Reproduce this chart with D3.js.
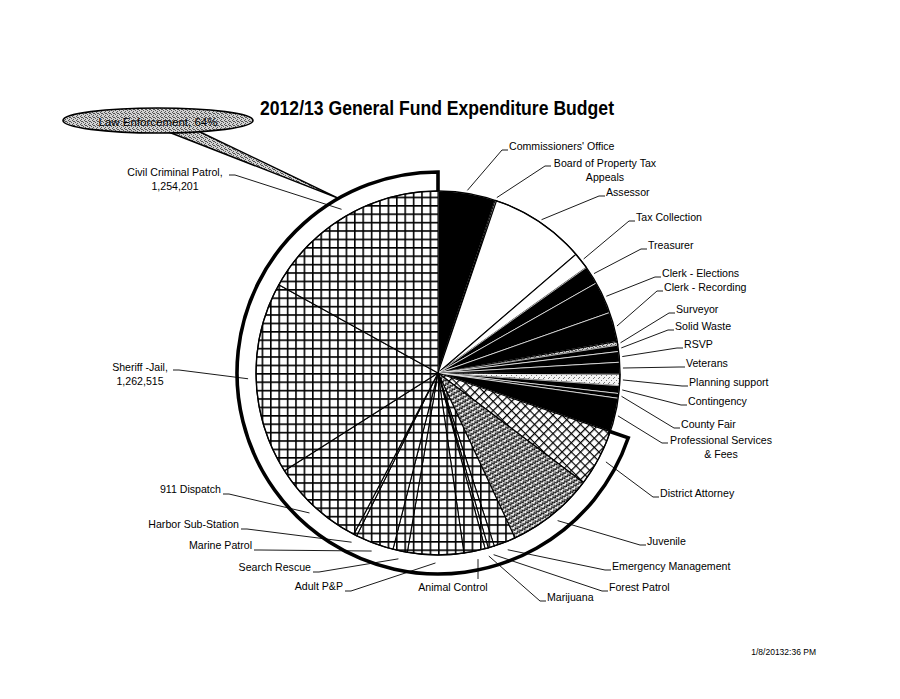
<!DOCTYPE html>
<html>
<head>
<meta charset="utf-8">
<script src="https://cdn.jsdelivr.net/npm/d3@7"></script>
<style>
  html, body { margin: 0; padding: 0; background: #fff; }
  svg { display: block; }
  text { font-family: "Liberation Sans", Arial, sans-serif; fill: #000; }
</style>
</head>
<body>
<svg id="chart" width="900" height="699"></svg>
<script>
// ---------------- DATA ----------------
const title = "2012/13 General Fund Expenditure Budget";
const categories = [
  "Commissioners' Office", "Board of Property Tax Appeals", "Assessor", "Tax Collection",
  "Treasurer", "Clerk - Elections", "Clerk - Recording", "Surveyor", "Solid Waste", "RSVP",
  "Veterans", "Planning support", "Contingency", "County Fair", "Professional Services & Fees",
  "District Attorney", "Juvenile", "Emergency Management", "Forest Patrol", "Marijuana",
  "Animal Control", "Adult P&P", "Search Rescue", "Marine Patrol", "Harbor Sub-Station",
  "911 Dispatch", "Sheriff -Jail", "Civil Criminal Patrol"
];
const values = [
  376000, 10000, 627000, 109000,
  119000, 210000, 193000, 25000, 41000, 70000,
  76000, 76000, 51000, 31000, 222000,
  374000, 575000, 144000, 41000, 21000,
  140000, 368000, 95000, 251000, 21000,
  616000, 1262515, 1254201
];
const valueLabelled = ["Sheriff -Jail", "Civil Criminal Patrol"];
const groupLabel = "Law Enforcement, 64%";
const groupFirst = "District Attorney";   // bracket spans from this slice to the end
const footer = "1/8/20132:36 PM";

// ---------------- STYLE / LAYOUT ----------------
const fillKind = {
  "Commissioners' Office": "black", "Board of Property Tax Appeals": "white", "Assessor": "white",
  "Tax Collection": "white", "Treasurer": "black", "Clerk - Elections": "black",
  "Clerk - Recording": "black", "Surveyor": "stipple", "Solid Waste": "black", "RSVP": "black",
  "Veterans": "black", "Planning support": "lightstipple", "Contingency": "black",
  "County Fair": "black", "Professional Services & Fees": "black",
  "District Attorney": "diamond", "Juvenile": "zigzag"
}; // everything else: grid

// label layout: x,y = text anchor / first baseline; side: r (start) l (end) m (middle)
const labelLayout = {
  "Commissioners' Office": {x: 509, y: 150, side: "r"},
  "Board of Property Tax Appeals": {x: 605, y: 167, side: "m", lines: ["Board of Property Tax", "Appeals"], lx: 551, ly: 166},
  "Assessor": {x: 606, y: 196, side: "r"},
  "Tax Collection": {x: 636, y: 221, side: "r"},
  "Treasurer": {x: 648, y: 249, side: "r"},
  "Clerk - Elections": {x: 662, y: 277, side: "r"},
  "Clerk - Recording": {x: 664, y: 291, side: "r"},
  "Surveyor": {x: 676, y: 313, side: "r"},
  "Solid Waste": {x: 675, y: 330, side: "r"},
  "RSVP": {x: 684, y: 348, side: "r"},
  "Veterans": {x: 686, y: 367, side: "r"},
  "Planning support": {x: 689, y: 386, side: "r"},
  "Contingency": {x: 688, y: 405, side: "r"},
  "County Fair": {x: 681, y: 428, side: "r"},
  "Professional Services & Fees": {x: 721, y: 444, side: "m", lines: ["Professional Services", "& Fees"], lx: 668, ly: 443},
  "District Attorney": {x: 660, y: 497, side: "r"},
  "Juvenile": {x: 647, y: 545, side: "r"},
  "Emergency Management": {x: 612, y: 570, side: "r"},
  "Forest Patrol": {x: 609, y: 591, side: "r"},
  "Marijuana": {x: 547, y: 601, side: "r"},
  "Animal Control": {x: 453, y: 591, side: "m", lx: 478, ly: 579, vertical: true},
  "Adult P&P": {x: 343, y: 590, side: "l"},
  "Search Rescue": {x: 311, y: 571, side: "l"},
  "Marine Patrol": {x: 252, y: 549, side: "l"},
  "Harbor Sub-Station": {x: 239, y: 528, side: "l"},
  "911 Dispatch": {x: 221, y: 493, side: "l"},
  "Sheriff -Jail": {x: 140, y: 371, side: "m", lx: 173, ly: 370},
  "Civil Criminal Patrol": {x: 175, y: 176, side: "m", lx: 229, ly: 175}
};

const W = 900, H = 699;
const cx = 438, cy = 373, R = 182, Rb = 201;
const fmt = d3.format(",");

const svg = d3.select("#chart");
svg.append("rect").attr("width", W).attr("height", H).attr("fill", "#fff");

// ---------------- PATTERNS ----------------
const defs = svg.append("defs");
const pg = defs.append("pattern").attr("id", "grid").attr("patternUnits", "userSpaceOnUse")
  .attr("width", 8.4).attr("height", 8.4);
pg.append("rect").attr("width", 8.4).attr("height", 8.4).attr("fill", "#fff");
pg.append("path").attr("d", "M0.8,0 V8.4 M0,0.8 H8.4").attr("stroke", "#000").attr("stroke-width", 1.6);

const pd = defs.append("pattern").attr("id", "diamond").attr("patternUnits", "userSpaceOnUse")
  .attr("width", 6.5).attr("height", 6.5).attr("patternTransform", "rotate(45)");
pd.append("rect").attr("width", 6.5).attr("height", 6.5).attr("fill", "#fff");
pd.append("path").attr("d", "M0.6,0 V6.5 M0,0.6 H6.5").attr("stroke", "#000").attr("stroke-width", 1.3);

const pz = defs.append("pattern").attr("id", "zigzag").attr("patternUnits", "userSpaceOnUse")
  .attr("width", 6).attr("height", 4).attr("patternTransform", "rotate(-30)");
pz.append("rect").attr("width", 6).attr("height", 4).attr("fill", "#fff");
pz.append("path").attr("d", "M0,3 L1.5,1 L3,3 L4.5,1 L6,3")
  .attr("fill", "none").attr("stroke", "#000").attr("stroke-width", 1.2);
pz.append("rect").attr("x", 2.5).attr("y", 0).attr("width", 1).attr("height", 1).attr("fill", "#444");

const ps = defs.append("pattern").attr("id", "stipple").attr("patternUnits", "userSpaceOnUse")
  .attr("width", 4).attr("height", 4);
ps.append("rect").attr("width", 4).attr("height", 4).attr("fill", "#d2d2d2");
[[0,0],[2,1],[1,3],[3,2],[1,1]].forEach(([x,y]) => ps.append("rect").attr("x", x).attr("y", y)
  .attr("width", 1).attr("height", 1).attr("fill", "#555"));

const pl = defs.append("pattern").attr("id", "lightstipple").attr("patternUnits", "userSpaceOnUse")
  .attr("width", 5).attr("height", 5);
pl.append("rect").attr("width", 5).attr("height", 5).attr("fill", "#f4f4f4");
[[0,0],[3,2],[1,4]].forEach(([x,y]) => pl.append("rect").attr("x", x).attr("y", y)
  .attr("width", 1).attr("height", 1).attr("fill", "#777"));

function fillOf(cat) {
  const k = fillKind[cat] || "grid";
  if (k === "black") return "#000";
  if (k === "white") return "#fff";
  return "url(#" + k + ")";
}

// ---------------- PIE ----------------
const data = categories.map((c, i) => ({category: c, value: values[i]}));
const pie = d3.pie().sort(null).value(d => d.value).startAngle(0).endAngle(2 * Math.PI);
const arcs = pie(data);
const arc = d3.arc().innerRadius(0).outerRadius(R);

const g = svg.append("g").attr("transform", `translate(${cx},${cy})`);
g.selectAll("path.slice").data(arcs).join("path")
  .attr("class", "slice")
  .attr("d", arc)
  .attr("fill", d => fillOf(d.data.category))
  .attr("stroke", d => (fillKind[d.data.category] === "black") ? "#fff" : "#000")
  .attr("stroke-width", d => (fillKind[d.data.category] === "black") ? 0.7 : 1.1)
  .attr("stroke-linejoin", "round");

g.append("circle").attr("r", R).attr("fill", "none").attr("stroke", "#000").attr("stroke-width", 1.4);

// ---------------- LAW ENFORCEMENT BRACKET ----------------
const gStart = arcs.find(a => a.data.category === groupFirst).startAngle;
const pt = (ang, r) => [Math.sin(ang) * r, -Math.cos(ang) * r];
const bp = d3.path();
const a0 = pt(gStart, R - 2), a1 = pt(gStart, Rb);
bp.moveTo(a0[0], a0[1]);
bp.lineTo(a1[0], a1[1]);
bp.arc(0, 0, Rb, gStart - Math.PI / 2, 2 * Math.PI - Math.PI / 2, false);
const e1 = pt(2 * Math.PI, R);
bp.lineTo(e1[0], e1[1]);
g.append("path").attr("d", bp.toString()).attr("fill", "none").attr("stroke", "#000")
  .attr("stroke-width", 3.6).attr("stroke-linejoin", "miter");

// ---------------- LEADERS & LABELS ----------------
const lg = svg.append("g");
arcs.forEach(a => {
  const cat = a.data.category;
  const L = labelLayout[cat];
  if (!L) return;
  const mid = (a.startAngle + a.endAngle) / 2;
  const tipR = (mid >= gStart) ? R + 8 : R + 3;
  const tp = pt(mid, tipR);
  const tip = [cx + tp[0], cy + tp[1]];
  let pts;
  if (L.vertical) {
    pts = [[L.lx, L.ly], [L.lx, tip[1]]];
  } else if (L.side === "r") {
    pts = [tip, [L.x - 7, L.y], [L.x - 1, L.y]];
  } else if (L.side === "l") {
    pts = [tip, [L.x + 8, L.y + 1], [L.x + 2, L.y + 1]];
  } else {
    const toLeft = L.lx > L.x;
    pts = toLeft ? [tip, [L.lx + 6, L.ly], [L.lx, L.ly]] : [tip, [L.lx - 6, L.ly], [L.lx, L.ly]];
  }
  lg.append("path").attr("d", d3.line()(pts)).attr("fill", "none")
    .attr("stroke", "#000").attr("stroke-width", 0.9);

  let lines = L.lines ? L.lines.slice() : [cat];
  if (valueLabelled.includes(cat)) lines = [cat + ",", fmt(a.data.value)];
  const t = lg.append("text")
    .attr("text-anchor", L.side === "r" ? "start" : L.side === "l" ? "end" : "middle")
    .attr("font-size", 10.6);
  lines.forEach((s, i) => t.append("tspan").attr("x", L.x).attr("y", L.y + i * 13.5).text(s));
});

// ---------------- CALLOUT ----------------
const cg = svg.append("g");
const calloutTip = pt(2 * Math.PI - 0.52, Rb);
cg.append("path")
  .attr("d", d3.line()([[166, 131], [196, 130], [cx + calloutTip[0] + 1, cy + calloutTip[1]], [166, 131]]))
  .attr("fill", "url(#stipple)").attr("stroke", "#000").attr("stroke-width", 1.4)
  .attr("stroke-linejoin", "miter");
cg.append("ellipse").attr("cx", 158).attr("cy", 120.5).attr("rx", 95).attr("ry", 12.5)
  .attr("fill", "url(#stipple)").attr("stroke", "#000").attr("stroke-width", 1.6);
cg.append("text").attr("x", 158).attr("y", 126).attr("text-anchor", "middle")
  .attr("font-size", 11.5).attr("fill", "#222").text(groupLabel);

// ---------------- TITLE / FOOTER ----------------
svg.append("text").attr("x", 437).attr("y", 115).attr("text-anchor", "middle")
  .attr("font-size", 19.5).attr("font-weight", "bold")
  .attr("textLength", 354).attr("lengthAdjust", "spacingAndGlyphs").text(title);
svg.append("text").attr("x", 816).attr("y", 655).attr("text-anchor", "end")
  .attr("font-size", 8.5).text(footer);
</script>
</body>
</html>
